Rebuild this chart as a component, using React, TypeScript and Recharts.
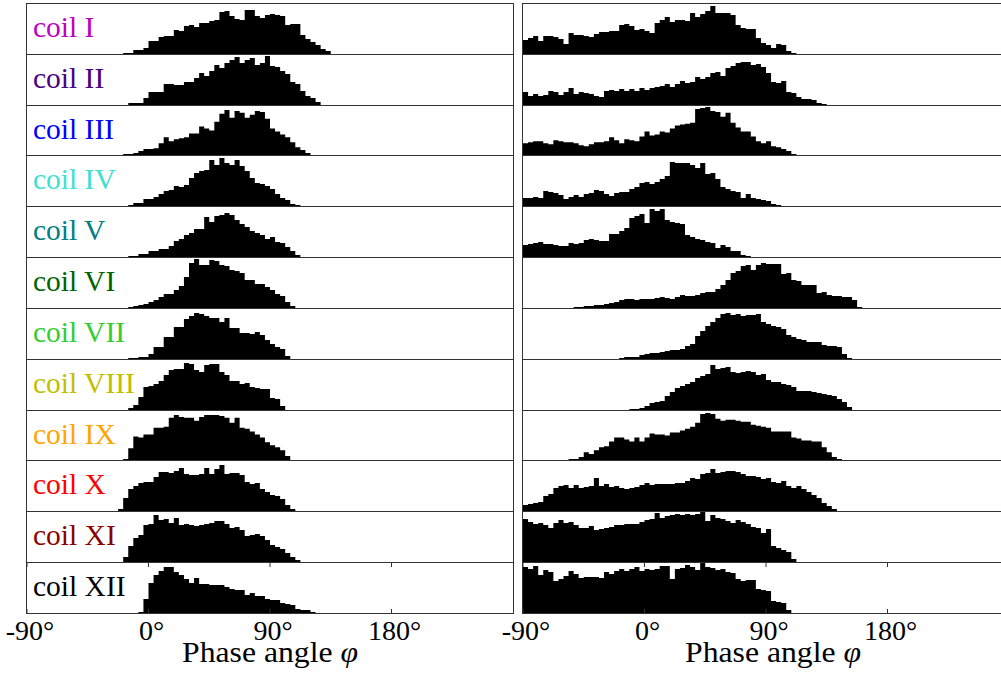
import { AreaChart, Area, XAxis, YAxis, ReferenceLine, Label } from "recharts";

// phase-angle histograms, one panel per coil, two measurement sets side by side
const PHI_MIN = -90;
const PHI_MAX = 270;
const BIN_WIDTH = 3.75;
const PHI_TICKS = [-90, 0, 90, 180];

const coilNames = [
  "coil I", "coil II", "coil III", "coil IV", "coil V", "coil VI",
  "coil VII", "coil VIII", "coil IX", "coil X", "coil XI", "coil XII",
];
const coilColors = [
  "#bf00bf", "#4b0082", "#0000ff", "#40e0d0", "#008080", "#006400",
  "#32cd32", "#bfbf00", "#ffa500", "#ff0000", "#8b0000", "#000000",
];

// first bin index of each histogram (bin k starts at -90 + k * BIN_WIDTH)
const leftStartBin = [19, 20, 19, 20, 20, 20, 20, 20, 19, 18, 19, 22];
const rightStartBin = [0, 0, 0, 0, 0, 10, 19, 21, 9, 0, 0, 0];

const leftCoilI = [1, 1, 4, 4, 6, 13, 13, 17, 18, 18, 24, 23, 28, 29, 27, 31, 31, 33, 34, 42, 43, 38, 35, 34, 44, 44, 38, 36, 39, 40, 39, 38, 29, 30, 30, 19, 15, 12, 9, 5, 3];
const leftCoilII = [2, 2, 2, 7, 13, 13, 13, 21, 21, 20, 20, 23, 23, 27, 32, 29, 34, 40, 37, 42, 45, 48, 42, 45, 47, 40, 42, 49, 39, 38, 34, 31, 23, 21, 14, 9, 7, 3];
const leftCoilIII = [1, 1, 2, 4, 6, 6, 7, 12, 18, 14, 16, 17, 18, 22, 22, 29, 27, 25, 34, 42, 46, 38, 45, 43, 38, 41, 45, 44, 37, 27, 24, 21, 18, 13, 8, 5, 2];
const leftCoilIV = [1, 3, 3, 7, 7, 9, 12, 15, 16, 20, 19, 21, 28, 33, 35, 36, 46, 41, 48, 43, 41, 46, 40, 35, 28, 23, 22, 20, 17, 12, 8, 6, 2, 1];
const leftCoilV = [1, 1, 3, 3, 6, 6, 8, 8, 11, 16, 18, 22, 24, 28, 28, 40, 35, 41, 42, 44, 42, 37, 33, 30, 26, 24, 22, 18, 20, 15, 14, 10, 6, 2];
const leftCoilVI = [1, 2, 3, 4, 6, 8, 11, 14, 14, 18, 22, 31, 45, 49, 43, 43, 48, 47, 43, 42, 38, 37, 35, 28, 28, 24, 24, 21, 18, 14, 12, 6, 2];
const leftCoilVII = [1, 1, 2, 2, 5, 12, 12, 22, 22, 32, 32, 40, 43, 46, 45, 43, 41, 41, 37, 41, 31, 31, 26, 26, 25, 27, 24, 19, 15, 12, 10, 3];
const leftCoilVIII = [2, 5, 13, 23, 24, 26, 29, 35, 40, 41, 41, 47, 46, 40, 38, 45, 46, 46, 38, 35, 29, 29, 26, 27, 23, 22, 21, 21, 12, 11, 4];
const leftCoilIX = [1, 12, 24, 23, 26, 26, 33, 33, 34, 43, 46, 44, 43, 43, 40, 44, 46, 46, 46, 45, 43, 38, 43, 33, 32, 29, 26, 23, 18, 15, 13, 10, 4];
const leftCoilX = [2, 13, 22, 25, 28, 29, 29, 34, 39, 39, 38, 40, 43, 37, 36, 36, 37, 43, 37, 42, 46, 37, 38, 38, 36, 29, 27, 28, 22, 19, 16, 15, 12, 6, 2];
const leftCoilXI = [5, 16, 24, 27, 37, 38, 47, 42, 43, 39, 44, 37, 38, 37, 36, 37, 38, 39, 41, 41, 38, 34, 35, 32, 26, 27, 28, 26, 22, 17, 15, 13, 9, 5, 2];
const leftCoilXII = [1, 14, 30, 38, 42, 46, 46, 41, 38, 34, 30, 35, 29, 29, 28, 28, 28, 26, 24, 23, 23, 18, 20, 17, 17, 14, 13, 13, 10, 9, 8, 4, 3, 3, 1];

const rightCoilI = [14, 16, 18, 13, 18, 18, 17, 15, 10, 21, 19, 19, 18, 17, 20, 22, 22, 23, 23, 29, 30, 28, 24, 25, 23, 21, 31, 34, 37, 32, 34, 34, 33, 41, 37, 40, 43, 48, 41, 41, 41, 39, 29, 26, 25, 25, 16, 11, 9, 6, 10, 9, 3, 1];
const rightCoilII = [13, 9, 11, 9, 10, 14, 13, 10, 13, 17, 11, 13, 12, 11, 9, 8, 14, 15, 14, 16, 14, 16, 14, 17, 15, 17, 18, 19, 21, 18, 21, 24, 22, 23, 28, 26, 28, 32, 33, 29, 37, 39, 42, 43, 43, 40, 41, 38, 32, 23, 22, 24, 13, 12, 8, 6, 6, 5, 2, 1];
const rightCoilIII = [12, 13, 14, 14, 12, 11, 15, 14, 13, 13, 12, 10, 9, 11, 13, 13, 14, 18, 15, 12, 16, 15, 14, 19, 24, 20, 21, 24, 23, 27, 30, 31, 32, 33, 47, 48, 49, 45, 44, 39, 43, 33, 28, 24, 24, 19, 14, 12, 14, 9, 8, 6, 4, 1];
const rightCoilIV = [8, 8, 9, 8, 15, 14, 13, 11, 7, 9, 11, 9, 12, 13, 16, 15, 12, 10, 13, 14, 14, 17, 19, 23, 24, 22, 24, 27, 30, 44, 43, 43, 43, 41, 38, 43, 32, 33, 27, 19, 17, 15, 14, 8, 12, 8, 7, 6, 5, 2, 1];
const rightCoilV = [12, 13, 14, 15, 13, 13, 12, 11, 11, 14, 13, 14, 17, 18, 17, 16, 16, 23, 23, 26, 29, 39, 41, 43, 34, 48, 46, 48, 37, 35, 34, 33, 22, 20, 18, 17, 15, 14, 9, 12, 10, 6, 6, 2, 1];
const rightCoilVI = [1, 1, 2, 2, 3, 3, 4, 5, 6, 8, 9, 9, 8, 9, 9, 9, 10, 11, 10, 9, 11, 13, 12, 12, 13, 15, 16, 16, 19, 23, 28, 35, 37, 42, 43, 38, 43, 45, 44, 44, 44, 34, 35, 28, 27, 23, 23, 23, 15, 16, 13, 12, 12, 11, 11, 8, 1];
const rightCoilVII = [1, 2, 2, 2, 4, 5, 6, 6, 7, 8, 9, 9, 10, 13, 15, 23, 28, 33, 37, 41, 45, 46, 44, 45, 43, 44, 44, 45, 37, 35, 33, 32, 30, 24, 22, 20, 19, 17, 17, 17, 14, 13, 13, 12, 5, 1];
const rightCoilVIII = [1, 1, 2, 4, 7, 8, 9, 14, 18, 22, 24, 26, 28, 32, 34, 36, 45, 41, 42, 43, 38, 37, 38, 39, 38, 35, 36, 30, 28, 28, 26, 25, 23, 19, 19, 19, 18, 17, 16, 15, 14, 11, 8, 3];
const rightCoilIX = [1, 1, 3, 8, 6, 10, 13, 14, 19, 23, 23, 21, 19, 23, 19, 23, 27, 26, 26, 25, 28, 28, 30, 32, 34, 38, 47, 48, 47, 42, 40, 41, 41, 40, 39, 39, 36, 35, 34, 33, 29, 29, 29, 29, 23, 22, 20, 20, 19, 19, 13, 8, 3, 1];
const rightCoilX = [6, 7, 8, 9, 15, 17, 23, 25, 26, 23, 26, 23, 24, 25, 33, 25, 27, 24, 25, 23, 22, 23, 24, 26, 28, 26, 27, 27, 27, 27, 28, 28, 30, 33, 32, 37, 38, 42, 38, 39, 40, 40, 39, 37, 35, 35, 34, 32, 33, 29, 28, 30, 25, 23, 25, 22, 19, 16, 13, 8, 5, 2];
const rightCoilXI = [43, 40, 38, 39, 37, 34, 39, 42, 39, 40, 37, 34, 34, 36, 32, 33, 34, 35, 37, 37, 38, 38, 38, 40, 42, 43, 49, 44, 46, 47, 48, 47, 48, 47, 48, 50, 41, 47, 44, 43, 41, 39, 42, 40, 38, 35, 34, 29, 33, 16, 14, 12, 10, 3];
const rightCoilXII = [46, 44, 47, 38, 43, 41, 32, 34, 37, 42, 39, 35, 36, 36, 36, 35, 41, 39, 42, 44, 42, 44, 46, 42, 44, 43, 44, 47, 47, 34, 44, 45, 48, 46, 43, 50, 46, 45, 43, 44, 41, 40, 34, 32, 33, 33, 24, 23, 22, 12, 11, 10, 3];

const leftCounts = [leftCoilI, leftCoilII, leftCoilIII, leftCoilIV, leftCoilV, leftCoilVI, leftCoilVII, leftCoilVIII, leftCoilIX, leftCoilX, leftCoilXI, leftCoilXII];
const rightCounts = [rightCoilI, rightCoilII, rightCoilIII, rightCoilIV, rightCoilV, rightCoilVI, rightCoilVII, rightCoilVIII, rightCoilIX, rightCoilX, rightCoilXI, rightCoilXII];

const Y_MAX = 50;
const PLOT_W = 486;
const PAD = 40; // room for the tick labels that hang over the plot edges
const FRAME_TOP = 3;
const ROW_H = 50.83;
const AXIS_H = 75;
const SERIF = "'Liberation Serif', 'Times New Roman', serif";
const FRAME = "#333";

const rowTop = (i: number) => Math.round(FRAME_TOP + i * ROW_H);

// histogram -> step points, closed with a zero at the right edge of the last bin
function toSteps(start: number, counts: number[]) {
  const pts = counts.map((n, i) => ({ phi: PHI_MIN + BIN_WIDTH * (start + i), n }));
  pts.push({ phi: PHI_MIN + BIN_WIDTH * (start + counts.length), n: 0 });
  return pts;
}

function AngleTick(props: any) {
  const { x, y, payload } = props;
  return (
    <text x={x + 3} y={y + 27} textAnchor="middle" fontFamily={SERIF} fontSize={28} fill="#000">
      {`${payload.value}°`}
    </text>
  );
}

function axisTitle(shift: number) {
  return (props: any) => {
    const vb = props.viewBox;
    return (
      <text
        x={vb.x + vb.width / 2 + shift}
        y={vb.y + 49}
        textAnchor="middle"
        fontFamily={SERIF}
        fontSize={29.5}
        textLength={176}
        lengthAdjust="spacingAndGlyphs"
        fill="#000"
      >
        Phase angle <tspan fontStyle="italic">φ</tspan>
      </text>
    );
  };
}

interface PanelProps {
  data: { phi: number; n: number }[];
  innerH: number;
  isLast: boolean;
  titleShift: number;
}

function Panel({ data, innerH, isLast, titleShift }: PanelProps) {
  return (
    <AreaChart
      width={PLOT_W + 2 * PAD}
      height={innerH + (isLast ? AXIS_H : 0)}
      data={data}
      margin={{ top: 0, right: PAD, bottom: 0, left: PAD }}
    >
      <XAxis
        type="number"
        dataKey="phi"
        domain={[PHI_MIN, PHI_MAX]}
        ticks={PHI_TICKS}
        interval={0}
        allowDataOverflow
        hide={!isLast}
        height={isLast ? AXIS_H : 0}
        axisLine={false}
        tickLine={false}
        tickSize={0}
        tickMargin={0}
        tick={<AngleTick />}
      >
        {isLast && <Label content={axisTitle(titleShift)} />}
      </XAxis>
      <YAxis hide domain={[0, Y_MAX]} allowDataOverflow />
      <Area
        type="stepAfter"
        dataKey="n"
        stroke="none"
        fill="#000"
        fillOpacity={1}
        isAnimationActive={false}
      />
      {isLast &&
        PHI_TICKS.map((t) => (
          <ReferenceLine key={`b${t}`} segment={[{ x: t, y: 0 }, { x: t, y: 4 }]} stroke={FRAME} />
        ))}
      {isLast &&
        PHI_TICKS.map((t) => (
          <ReferenceLine key={`t${t}`} segment={[{ x: t, y: Y_MAX }, { x: t, y: Y_MAX - 4 }]} stroke={FRAME} />
        ))}
    </AreaChart>
  );
}

function Column({ left, starts, counts, labels, titleShift }: {
  left: number;
  starts: number[];
  counts: number[][];
  labels: boolean;
  titleShift: number;
}) {
  return (
    <>
      {counts.map((c, i) => {
        const top = rowTop(i);
        const h = rowTop(i + 1) - top + 1;
        const isLast = i === counts.length - 1;
        return (
          <div
            key={i}
            style={{
              position: "absolute",
              left,
              top,
              width: PLOT_W + 2,
              height: h,
              boxSizing: "border-box",
              border: `1px solid ${FRAME}`,
            }}
          >
            <div style={{ position: "absolute", left: -PAD, top: 0 }}>
              <Panel data={toSteps(starts[i], c)} innerH={h - 2} isLast={isLast} titleShift={titleShift} />
            </div>
            {labels && (
              <svg
                width={PLOT_W}
                height={h - 2}
                style={{ position: "absolute", left: 0, top: 0, overflow: "visible", pointerEvents: "none" }}
              >
                <text x={6} y={33} fontFamily={SERIF} fontSize={29.5} fill={coilColors[i]}>
                  {coilNames[i]}
                </text>
              </svg>
            )}
          </div>
        );
      })}
    </>
  );
}

export default function App() {
  return (
    <div
      style={{
        position: "absolute",
        left: 0,
        top: 0,
        width: 1001,
        height: 686,
        overflow: "hidden",
        background: "#fff",
      }}
    >
      <Column left={26} starts={leftStartBin} counts={leftCounts} labels titleShift={0} />
      <Column left={522} starts={rightStartBin} counts={rightCounts} labels={false} titleShift={7} />
    </div>
  );
}
